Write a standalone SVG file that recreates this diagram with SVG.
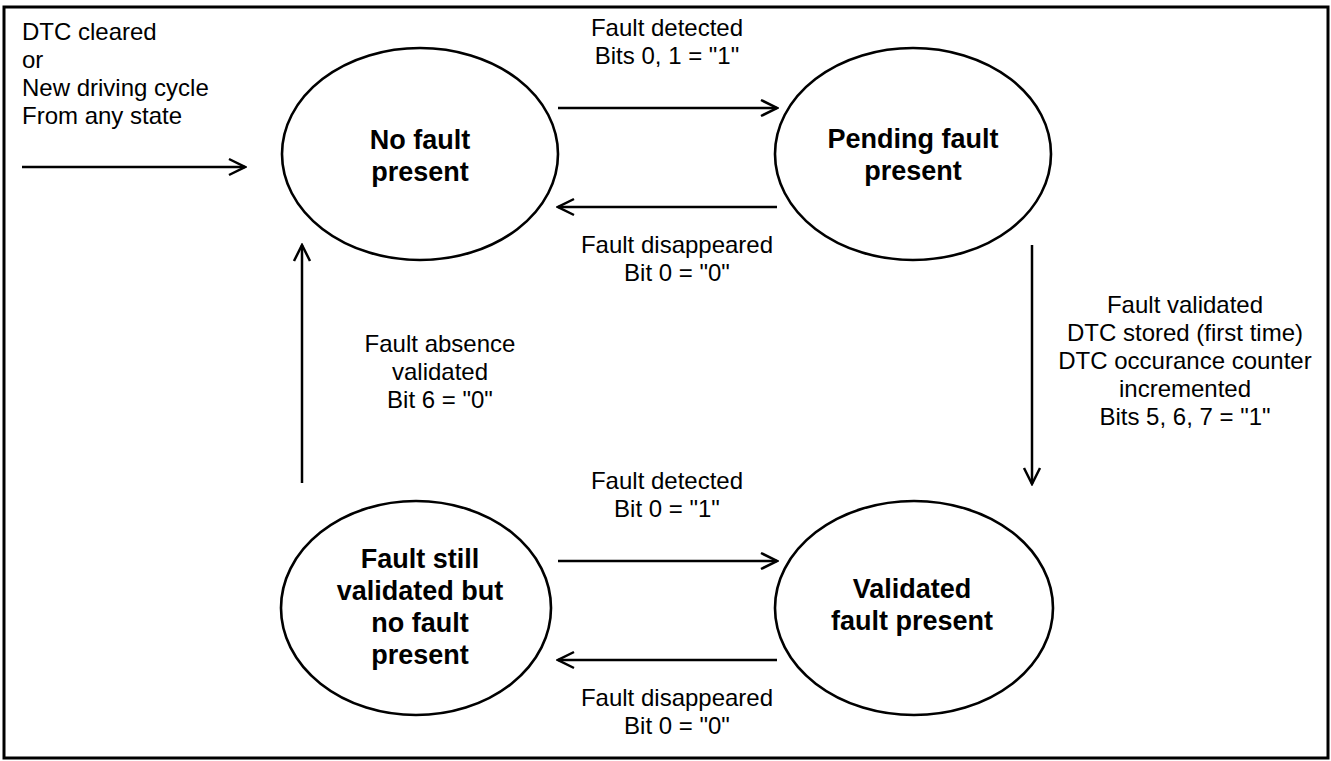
<svg xmlns="http://www.w3.org/2000/svg" width="1331" height="761" viewBox="0 0 1331 761">
<style>
.node{fill:#fff;stroke:#000;stroke-width:2.6}
.nt{font-family:"Liberation Sans",Arial,sans-serif;font-size:27px;font-weight:bold;text-anchor:middle;fill:#000}
.lbl{font-family:"Liberation Sans",Arial,sans-serif;font-size:24px;text-anchor:middle;fill:#000}
.lbll{font-family:"Liberation Sans",Arial,sans-serif;font-size:24px;fill:#000}
.edge{stroke:#000;stroke-width:2.5;fill:none;marker-end:url(#ah)}
</style>
<defs>
<marker id="ah" markerUnits="userSpaceOnUse" markerWidth="20" markerHeight="20" viewBox="0 0 20 20" refX="18" refY="10" orient="auto">
<path d="M2,2 L18,10 L2,18" fill="none" stroke="#000" stroke-width="2.5"/>
</marker>
</defs>
<rect x="0" y="0" width="1331" height="761" fill="#fff"/>
<rect x="4" y="7" width="1324" height="751" fill="none" stroke="#000" stroke-width="3"/>
<g id="connectors">
<line class="edge" x1="22" y1="167" x2="245" y2="167"/>
<line class="edge" x1="558" y1="108" x2="777" y2="108"/>
<line class="edge" x1="777" y1="207" x2="558" y2="207"/>
<line class="edge" x1="1032" y1="245" x2="1032" y2="484"/>
<line class="edge" x1="558" y1="561" x2="777" y2="561"/>
<line class="edge" x1="777" y1="660" x2="558" y2="660"/>
<line class="edge" x1="302" y1="483" x2="302" y2="245"/>
<text class="lbll"><tspan x="22" y="40">DTC cleared</tspan><tspan x="22" y="68">or</tspan><tspan x="22" y="96">New driving cycle</tspan><tspan x="22" y="124">From any state</tspan></text>
<text class="lbl"><tspan x="667" y="36">Fault detected</tspan><tspan x="667" y="64">Bits 0, 1 = "1"</tspan></text>
<text class="lbl"><tspan x="677" y="253">Fault disappeared</tspan><tspan x="677" y="281">Bit 0 = "0"</tspan></text>
<text class="lbl"><tspan x="1185" y="313">Fault validated</tspan><tspan x="1185" y="341">DTC stored (first time)</tspan><tspan x="1185" y="369">DTC occurance counter</tspan><tspan x="1185" y="397">incremented</tspan><tspan x="1185" y="425">Bits 5, 6, 7 = "1"</tspan></text>
<text class="lbl"><tspan x="440" y="352">Fault absence</tspan><tspan x="440" y="380">validated</tspan><tspan x="440" y="408">Bit 6 = "0"</tspan></text>
<text class="lbl"><tspan x="667" y="489">Fault detected</tspan><tspan x="667" y="517">Bit 0 = "1"</tspan></text>
<text class="lbl"><tspan x="677" y="706">Fault disappeared</tspan><tspan x="677" y="734">Bit 0 = "0"</tspan></text>
</g>
<g id="no-fault">
<ellipse class="node" cx="420" cy="154" rx="138" ry="106"/>
<text class="nt"><tspan x="420" y="149">No fault</tspan><tspan x="420" y="181">present</tspan></text>
</g>
<g id="pending">
<ellipse class="node" cx="913" cy="154" rx="138" ry="106"/>
<text class="nt"><tspan x="913" y="148">Pending fault</tspan><tspan x="913" y="180">present</tspan></text>
</g>
<g id="still-validated">
<ellipse class="node" cx="416" cy="608" rx="135" ry="107"/>
<text class="nt"><tspan x="420" y="568">Fault still</tspan><tspan x="420" y="600">validated but</tspan><tspan x="420" y="632">no fault</tspan><tspan x="420" y="664">present</tspan></text>
</g>
<g id="validated">
<ellipse class="node" cx="914" cy="608" rx="139" ry="107"/>
<text class="nt"><tspan x="912" y="598">Validated</tspan><tspan x="912" y="630">fault present</tspan></text>
</g>
</svg>
